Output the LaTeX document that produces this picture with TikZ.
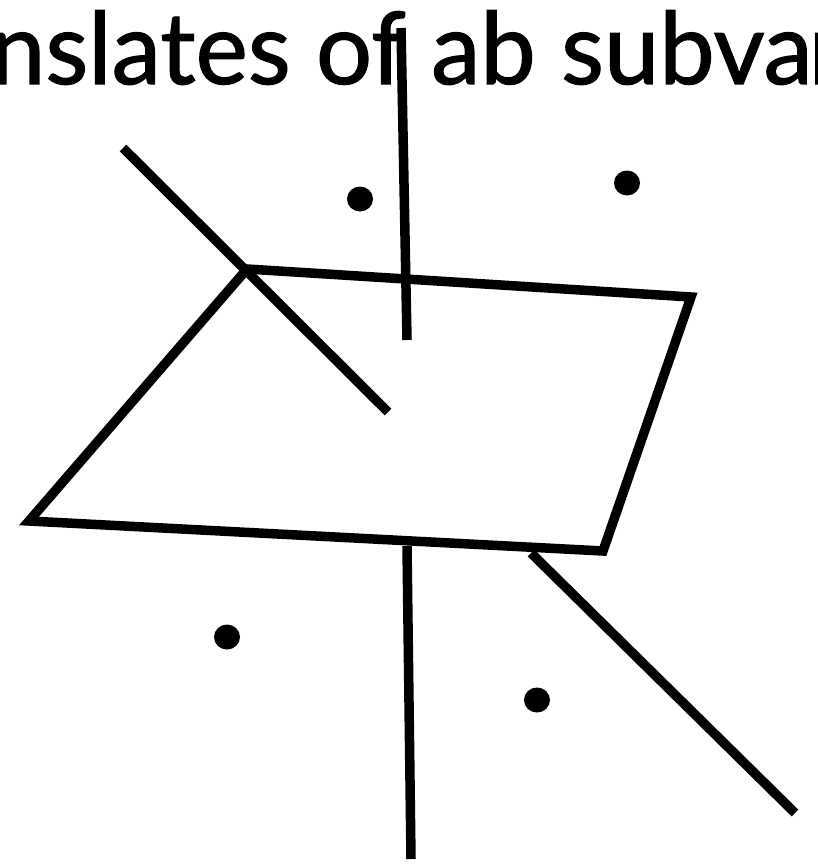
\documentclass[tikz,border=0pt]{standalone}
\usepackage{fontspec}
\setmainfont{Lato}
\newfontfamily\titlefont[FakeBold=1.2]{Lato}
\begin{document}
\begin{tikzpicture}[x=1pt,y=-1pt,
  stroke/.style={line width=9.5pt,line join=miter,line cap=butt},
  pt/.style={fill=black}]
\useasboundingbox (0,0) rectangle (818,864);
% title text (cropped)
\node[anchor=base west,inner sep=0pt,font=\titlefont\fontsize{100}{102}\selectfont,xscale=0.99] (title) at (-10,84) {nslates of ab subva\kern-4pt r};
% parallelogram
\coordinate (A) at (247,269);
\coordinate (B) at (691,297);
\coordinate (C) at (603,551);
\coordinate (D) at (29,521);
\draw[stroke] (A) -- (B) -- (C) -- (D) -- cycle;
% lines
\coordinate (u1) at (401,28);
\coordinate (u2) at (407,340);
\draw[stroke] (u1) -- (u2);
\coordinate (d1) at (123,148);
\coordinate (d2) at (388,412);
\draw[stroke] (d1) -- (d2);
\coordinate (l1) at (407,546);
\coordinate (l2) at (411,859);
\draw[stroke] (l1) -- (l2);
\coordinate (r1) at (531,553);
\coordinate (r2) at (795,813);
\draw[stroke] (r1) -- (r2);
% dots
\fill[pt] (360,199) ellipse (13 and 12.5);
\fill[pt] (627,183) ellipse (13 and 12.5);
\fill[pt] (227,637) ellipse (13 and 12.5);
\fill[pt] (537,700) ellipse (13 and 12.5);
\end{tikzpicture}
\end{document}
